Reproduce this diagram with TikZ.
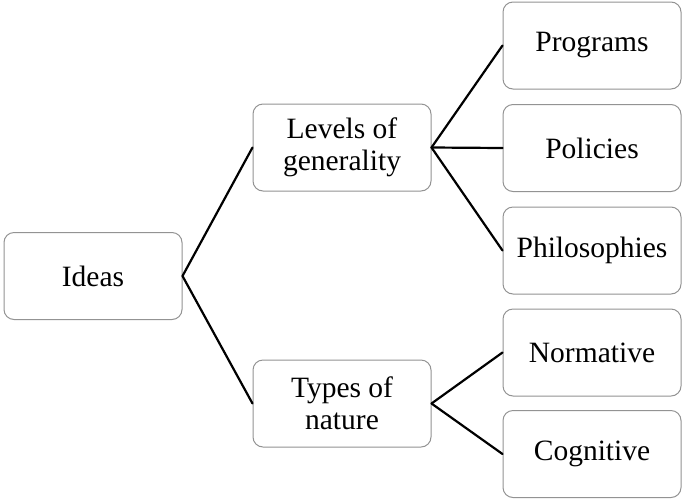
\documentclass[tikz,border=0pt]{standalone}
\usepackage{fontspec}
\setmainfont{Liberation Serif}
\usepackage{tikz}
\usetikzlibrary{positioning}

\begin{document}
\begin{tikzpicture}[line cap=round,line join=round,x=1pt,y=-1pt,
  box/.style={draw=gray!85,line width=1pt,rounded corners=10pt,fill=white,
    minimum width=178pt,minimum height=87pt,inner sep=0pt,align=center,
    font=\fontsize{29.5}{32}\selectfont},
  link/.style={line width=2.2pt,black}]
\useasboundingbox (0,0) rectangle (682,499);
\node[box] (ideas) at (93,276) {Ideas};
\node[box] (levels) at (342,147.5) {Levels of\\generality};
\node[box] (types) at (342,403.5) {Types of\\nature};
\node[box] (programs) at (592,45.5) {Programs};
\node[box] (policies) at (592,148) {Policies};
\node[box] (philos) at (592,250.5) {Philosophies};
\node[box] (normative) at (592,352.5) {Normative};
\node[box] (cognitive) at (592,454) {Cognitive};
\draw [link] (ideas.east)-- (levels.west);
\draw [link] (ideas.east)-- (types.west);
\draw [link] (levels.east)-- (programs.west);
\draw [link] (levels.east)-- (policies.west);
\draw [link] (levels.east)-- (philos.west);
\draw [link] (types.east)-- (normative.west);
\draw [link] (types.east)-- (cognitive.west);
\end{tikzpicture}
\end{document}
